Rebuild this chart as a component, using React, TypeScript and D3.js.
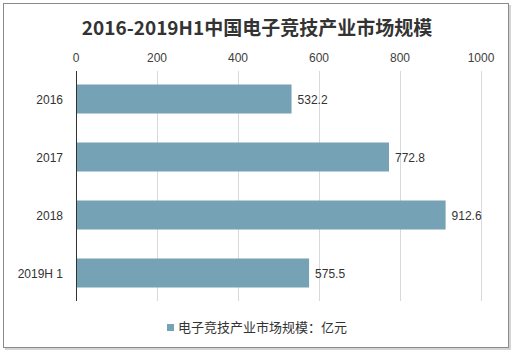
import React, { useEffect, useRef } from "react";
import * as d3 from "d3";

const categories = ["2016", "2017", "2018", "2019H 1"];
const values = [532.2, 772.8, 912.6, 575.5];
const ticks = [0, 200, 400, 600, 800, 1000];
const title = "2016-2019H1中国电子竞技产业市场规模";
const legendLabel = "电子竞技产业市场规模：亿元";

export default function App() {
  const ref = useRef<SVGGElement>(null);

  useEffect(() => {
    const svg = d3.select(ref.current);
    svg.selectAll("*").remove();

    svg.append("text")
      .attr("x", 257).attr("y", 35)
      .attr("text-anchor", "middle")
      .attr("font-family", "'Noto Sans CJK SC', 'Liberation Sans', sans-serif")
      .attr("font-weight", "700").attr("font-size", 19).attr("fill", "#333")
      .text(title);

    const x = d3.scaleLinear().domain([0, 1000]).range([76, 481]);
    const y = d3.scaleBand().domain(categories).range([70, 302]).paddingInner(0.5).paddingOuter(0.25);

    const main = svg.append("g");

    main.selectAll(".grid").data(ticks.slice(1)).enter().append("line")
      .attr("x1", (d) => Math.round(x(d)) + 0.5).attr("x2", (d) => Math.round(x(d)) + 0.5)
      .attr("y1", 71).attr("y2", 301)
      .attr("stroke", "#d9d9d9").attr("stroke-width", 1);

    main.selectAll(".tick").data(ticks).enter().append("text")
      .attr("x", (d) => x(d)).attr("y", 62)
      .attr("text-anchor", "middle")
      .attr("font-family", "'Liberation Sans', Arial, sans-serif")
      .attr("font-size", 12).attr("fill", "#404040")
      .text((d) => d);

    main.selectAll(".bar").data(values).enter().append("rect")
      .attr("x", x(0)).attr("y", (d, i) => y(categories[i]) as number)
      .attr("width", (d) => x(d) - x(0)).attr("height", y.bandwidth())
      .attr("fill", "#75a2b4");

    main.append("line")
      .attr("x1", 76.5).attr("x2", 76.5).attr("y1", 71).attr("y2", 301)
      .attr("stroke", "#333").attr("stroke-width", 1);

    main.selectAll(".cat").data(categories).enter().append("text")
      .attr("x", 63).attr("y", (d) => (y(d) as number) + y.bandwidth() / 2 + 4.5)
      .attr("text-anchor", "end")
      .attr("font-family", "'Liberation Sans', Arial, sans-serif")
      .attr("font-size", 12).attr("fill", "#333")
      .text((d) => d);

    main.selectAll(".val").data(values).enter().append("text")
      .attr("x", (d) => x(d) + 6).attr("y", (d, i) => (y(categories[i]) as number) + y.bandwidth() / 2 + 4.5)
      .attr("font-family", "'Liberation Sans', Arial, sans-serif")
      .attr("font-size", 12).attr("fill", "#333")
      .text((d) => d.toFixed(1));

    const legend = svg.append("g").attr("transform", "translate(167,324)");
    legend.append("rect").attr("width", 7).attr("height", 7).attr("fill", "#75a2b4");
    legend.append("text")
      .attr("x", 11).attr("y", 8)
      .attr("font-family", "'Noto Sans CJK SC', sans-serif")
      .attr("font-size", 13).attr("fill", "#333")
      .text(legendLabel);
  }, []);

  return (
    <svg width={516} height={354} style={{ display: "block", position: "absolute", left: 0, top: 0 }}>
      <rect x={5} y={5} width={506} height={345} fill="#d4d4d4" />
      <rect x={3.5} y={3.5} width={505} height={344} fill="#fff" stroke="#8a8a8a" strokeWidth={1} />
      <g ref={ref} />
    </svg>
  );
}
